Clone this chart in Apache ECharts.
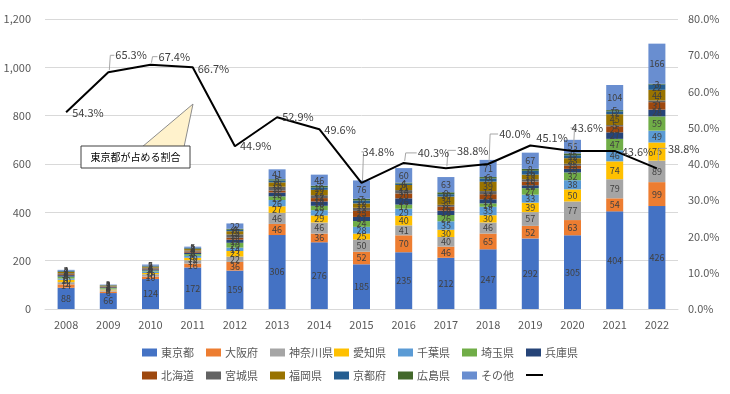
<!DOCTYPE html>
<html><head><meta charset="utf-8">
<script src="https://cdn.jsdelivr.net/npm/echarts@6/dist/echarts.min.js"></script>
<style>html,body{margin:0;padding:0;background:#fff}#c{width:730px;height:394px}</style>
</head><body><div id="c"></div>
<script>
const years = ['2008','2009','2010','2011','2012','2013','2014','2015','2016','2017','2018','2019','2020','2021','2022'];
const tokyo     = [88,66,124,172,159,306,276,185,235,212,247,292,305,404,426];
const osaka     = [14,6,10,16,36,46,36,52,70,46,65,52,63,54,99];
const kanagawa  = [9,5,10,14,22,46,46,50,41,40,46,57,77,79,89];
const aichi     = [10,4,5,10,23,27,29,25,40,30,30,39,50,74,75];
const chiba     = [5,3,6,8,14,26,22,28,29,35,35,33,38,46,49];
const saitama   = [8,3,4,7,20,15,18,24,17,26,14,27,32,47,59];
const hyogo     = [6,3,5,6,13,16,18,17,26,18,17,12,15,27,28];
const hokkaido  = [4,2,3,5,8,8,14,25,20,16,21,15,13,25,31];
const miyagi    = [4,2,4,4,14,16,12,13,14,8,13,10,8,5,7];
const fukuoka   = [5,3,4,6,13,18,22,18,21,34,39,19,23,45,44];
const kyoto     = [3,1,2,3,6,8,10,12,6,10,13,16,12,12,22];
const hiroshima = [2,1,2,2,4,5,7,7,4,8,6,8,8,5,3];
const others    = [4,2,5,5,22,41,46,76,60,63,71,67,56,104,166];
const tokyoShare = [54.3,65.3,67.4,66.7,44.9,52.9,49.6,34.8,40.3,38.8,40.0,45.1,43.6,43.6,38.8];
const leftTicks = [0,200,400,600,800,1000,1200];
const rightTicks = [0,10,20,30,40,50,60,70,80];

const seriesNames = ['東京都','大阪府','神奈川県','愛知県','千葉県','埼玉県','兵庫県','北海道','宮城県','福岡県','京都府','広島県','その他'];
const seriesData = [tokyo,osaka,kanagawa,aichi,chiba,saitama,hyogo,hokkaido,miyagi,fukuoka,kyoto,hiroshima,others];
const colors = ['#4472C4','#ED7D31','#A5A5A5','#FFC000','#5B9BD5','#70AD47','#264478','#9E480E','#636363','#997300','#255E91','#43682B','#698ED0'];
const lineName = '東京都が占める割合';

// label offsets (style only) relative to 'right' placement
const labelDx = [1,2,3,0,0,0,0,-4,9,6,6,1,-6,2,6];
const labelDy = [1,-17,-8,2,0,0,1,-31,-10,-18,-30,-8,-23,1,-20];
const leader  = [0,1,1,0,0,0,0,1,1,1,1,0,1,0,1];

const FONT = '"Noto Sans CJK JP", "Noto Sans", sans-serif';
const chart = echarts.init(document.getElementById('c'), null, {renderer:'canvas'});

const series = seriesNames.map((n,i)=>({
  name:n, type:'bar', stack:'total', barWidth:17,
  itemStyle:{color:colors[i]},
  label:{show:true, position:'inside', fontSize:9, color:'#404040', fontFamily:FONT},
  data: seriesData[i]
}));
// leader lines for moved labels
series.push({
  name:'leader', type:'custom', yAxisIndex:1, silent:true, z:9,
  data: tokyoShare.map((v,i)=>[i,v]),
  renderItem: (params, api) => {
    const i = api.value(0);
    if (!leader[i]) return null;
    const p = api.coord([i, api.value(1)]);
    const lx = p[0] + 5 + labelDx[i] - 1;
    const cy = p[1] + labelDy[i];
    return {type:'polyline', shape:{points:[[p[0]+1, p[1]-2],[p[0]+2, cy],[lx, cy]]},
            style:{stroke:'#A6A6A6', lineWidth:1, fill:null}};
  }
});
series.push({
  name: lineName, type:'line', yAxisIndex:1, symbol:'circle', symbolSize:0.1, showSymbol:true,
  lineStyle:{color:'#000', width:2}, itemStyle:{color:'#000'},
  z:10,
  label:{show:true, position:'right', distance:5, fontSize:11, color:'#404040', fontFamily:FONT,
    formatter: p => p.value.toFixed(1)+'%'},
  labelLayout: p => ({dx: labelDx[p.dataIndex], dy: labelDy[p.dataIndex]}),
  data: tokyoShare
});

const legendNames = seriesNames.concat([lineName]);
const legends = legendNames.map((n,i)=>{
  const isLine = n===lineName;
  return {
    data:[isLine ? {name:n, icon:'rect', itemStyle:{color:'#000'}} : n],
    left:137 + 64*(i%7), top: i<7 ? 342 : (isLine ? 369 : 365),
    itemWidth: isLine ? 17 : 15, itemHeight: isLine ? 2 : 8, itemGap:0,
    icon: 'rect',
    textStyle:{fontSize:11, color:'#595959', fontFamily:FONT, padding:[0,0,0,-1]},
    formatter: name => name===lineName ? '' : name,
    selectedMode:false
  };
});

chart.setOption({
  animation:false,
  textStyle:{fontFamily:FONT},
  grid:{left:45, right:52, top:19, bottom:85},
  legend: legends,
  xAxis:{type:'category', data:years,
    axisTick:{show:false}, axisLine:{lineStyle:{color:'#D9D9D9'}},
    axisLabel:{color:'#595959', fontSize:11, margin:10, fontFamily:FONT}},
  yAxis:[
    {type:'value', min:leftTicks[0], max:leftTicks[leftTicks.length-1], interval:200,
     axisLabel:{color:'#595959', fontSize:11, margin:14, fontFamily:FONT,
       formatter: v => v.toLocaleString('en-US')},
     splitLine:{lineStyle:{color:'#D9D9D9'}}, axisLine:{show:false}, axisTick:{show:false}},
    {type:'value', min:rightTicks[0], max:rightTicks[rightTicks.length-1], interval:10,
     axisLabel:{color:'#595959', fontSize:11, margin:10, fontFamily:FONT,
       formatter: v => v.toFixed(1)+'%'},
     splitLine:{show:false}, axisLine:{show:false}, axisTick:{show:false}}
  ],
  graphic:[
    {type:'polygon', z:100, shape:{points:[[193,104],[142,147],[184,147]]},
     style:{fill:'#FFF2CC', stroke:'#8C8C8C', lineWidth:1}},
    {type:'rect', z:101, shape:{x:81, y:146, width:109, height:22},
     style:{fill:'#fff', stroke:'#404040', lineWidth:1}},
    {type:'text', z:102, x:135.5, y:157,
     style:{text:'東京都が占める割合', fill:'#000', fontSize:10, fontFamily:FONT, align:'center', verticalAlign:'middle'}}
  ],
  series: series
});
</script>
</body></html>
